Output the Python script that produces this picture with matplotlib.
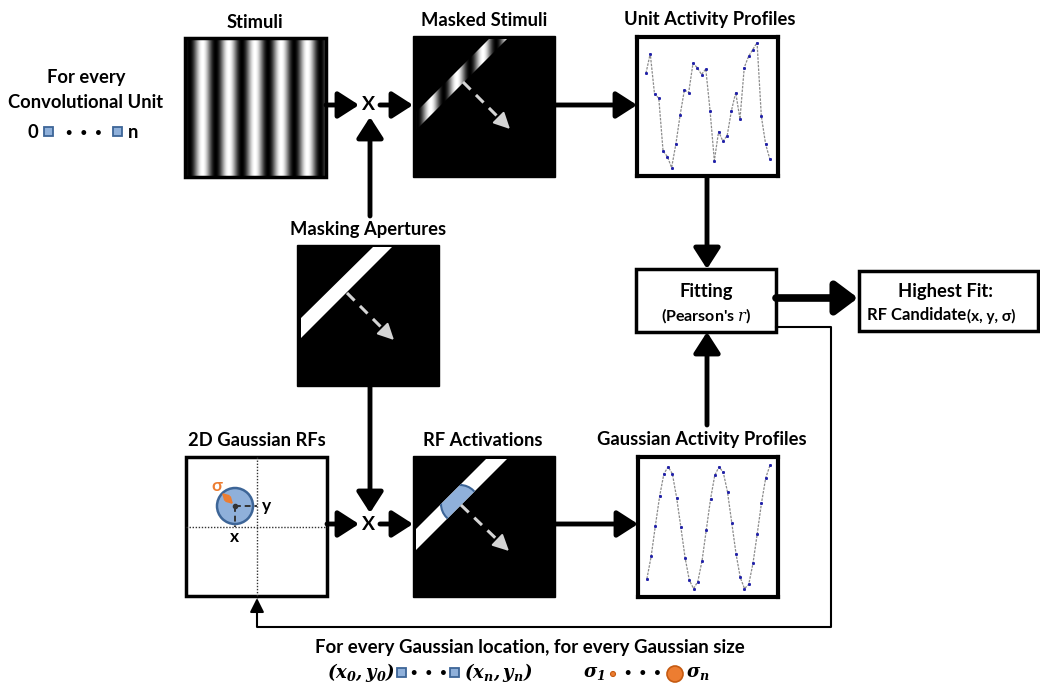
import numpy as np
import matplotlib.pyplot as plt
from matplotlib.patches import Rectangle, Polygon, Circle

plt.rcParams['font.family'] = ['Lato', 'DejaVu Sans']
plt.rcParams['mathtext.fontset'] = 'dejavuserif'

# activity (normalised 0..1 in the panel)
unit_activity = [0.74, 0.88, 0.59, 0.56, 0.18, 0.14, 0.06, 0.23, 0.44, 0.62,
                 0.60, 0.81, 0.78, 0.73, 0.77, 0.47, 0.11, 0.32, 0.25, 0.29,
                 0.47, 0.60, 0.41, 0.78, 0.86, 0.91, 0.96, 0.43, 0.23, 0.12]
gaussian_activity = [0.13, 0.29, 0.51, 0.72, 0.88, 0.93, 0.88, 0.71, 0.50, 0.28,
                     0.12, 0.06, 0.11, 0.26, 0.48, 0.70, 0.87, 0.93, 0.89, 0.75,
                     0.53, 0.31, 0.14, 0.06, 0.09, 0.24, 0.45, 0.67, 0.85, 0.94]

titles = ['Stimuli', 'Masked Stimuli', 'Unit Activity Profiles', 'Masking Apertures',
          '2D Gaussian RFs', 'RF Activations', 'Gaussian Activity Profiles']

BLUE_FILL = '#8fb0da'
BLUE_EDGE = '#3d6597'
ORANGE = '#ed7d31'
W, H = 1040, 684
FS = 13.2

fig = plt.figure(figsize=(W / 100, H / 100), dpi=100)
ax = fig.add_axes([0, 0, 1, 1])
ax.set_xlim(0, W)
ax.set_ylim(H, 0)
ax.axis('off')


def arrow(x0, y0, x1, y1, lw=3.5, hw=0.45, hl=0.7, ms=18, color='black'):
    ax.annotate('', xy=(x1, y1), xytext=(x0, y0),
                arrowprops=dict(arrowstyle=f'-|>,head_length={hl},head_width={hw}',
                                lw=lw, color=color, shrinkA=0, shrinkB=0,
                                mutation_scale=ms))


def dashed_arrow(x0, y0, x1, y1):
    # dashed shaft + solid head
    t = 0.82
    xm, ym = x0 + (x1 - x0) * t, y0 + (y1 - y0) * t
    ax.plot([x0, xm], [y0, ym], color='#d4d4d4', lw=2.2, ls=(0, (3.5, 2.5)), zorder=5)
    arrow(xm, ym, x1, y1, lw=1.5, hw=0.35, hl=0.7, ms=14, color='#d4d4d4')


def grating(x0, y0, x1, y1, clip=None):
    period, dark_off = 26.2, 4
    xs = np.arange(x0, x1) - x0
    row = 0.5 - 0.5 * np.cos(2 * np.pi * (xs - dark_off) / period)
    img = np.tile(row, (int(y1 - y0), 1))
    im = ax.imshow(img, cmap='gray', vmin=0, vmax=1, extent=(x0, x1, y1, y0),
                   interpolation='bilinear', zorder=3)
    if clip is not None:
        im.set_clip_path(clip)
    ax.set_xlim(0, W)
    ax.set_ylim(H, 0)


def title(x, y, s, size=FS):
    ax.text(x, y, s, ha='center', va='center', fontsize=size, fontweight='bold')


# ---- Stimuli
grating(185, 38, 326, 177)
ax.add_patch(Rectangle((185, 38), 141, 139, fill=False, lw=2.5, ec='black', zorder=4))
title(255, 22, titles[0])

# ---- Masked stimuli
ax.add_patch(Rectangle((413, 36), 142, 141, fc='black', ec='black', zorder=2))
band1 = Polygon([(416, 112), (489, 39), (507, 39), (416, 130)], closed=True,
                fc='none', ec='none', zorder=3)
ax.add_patch(band1)
grating(413, 36, 555, 177, clip=band1)
dashed_arrow(463, 82, 510, 129)
title(484, 20, titles[1])

# ---- Masking apertures
ax.add_patch(Rectangle((297, 245), 142, 141, fc='black', ec='black', zorder=2))
ax.add_patch(Polygon([(301, 318), (373, 247), (392, 247), (301, 338)], closed=True,
                     fc='white', ec='none', zorder=3))
dashed_arrow(347, 293, 394, 340)
title(368, 229, titles[3])

# ---- RF activations
ax.add_patch(Rectangle((413, 456), 142, 141, fc='black', ec='black', zorder=2))
band2 = Polygon([(416, 529), (486, 459), (507, 459), (416, 550)], closed=True,
                fc='white', ec='none', zorder=3)
ax.add_patch(band2)
blob = Circle((460, 504), 19, fc=BLUE_FILL, ec=BLUE_EDGE, lw=1.5, zorder=4)
ax.add_patch(blob)
blob.set_clip_path(band2)
dashed_arrow(461, 505, 509, 551)
title(483, 440, titles[5])

# ---- 2D Gaussian RFs
ax.add_patch(Rectangle((186, 457), 141, 139, fc='white', ec='black', lw=2.5, zorder=2))
ax.plot([257, 257], [457, 598], color='#333333', lw=1, ls=(0, (1, 1.2)), zorder=3)
ax.plot([186, 327], [527, 527], color='#333333', lw=1, ls=(0, (1, 1.2)), zorder=3)
ax.add_patch(Circle((235, 506), 18, fc=BLUE_FILL, ec=BLUE_EDGE, lw=1.8, zorder=4))
ax.plot([235, 257], [506, 506], color='#333333', lw=1.4, ls=(0, (3, 2)), zorder=5)
ax.plot([235, 235], [506, 527], color='#333333', lw=1.4, ls=(0, (3, 2)), zorder=5)
ax.plot(235, 506, 'o', ms=3, color='#333333', zorder=6)
ax.annotate('', xy=(233, 504), xytext=(222, 493),
            arrowprops=dict(arrowstyle='<|-|>,head_length=0.35,head_width=0.2',
                            lw=1.5, color=ORANGE, shrinkA=0, shrinkB=0,
                            mutation_scale=10), zorder=6)
ax.text(217, 486, 'σ', color=ORANGE, ha='center', va='center', fontsize=12.5,
        fontweight='bold', zorder=6)
ax.text(267, 506, 'y', ha='center', va='center', fontsize=12.5, fontweight='bold')
ax.text(235, 537, 'x', ha='center', va='center', fontsize=12.5, fontweight='bold')
title(257, 440, titles[4])


# ---- activity profile panels
def profile(x0, y0, x1, y1, values):
    pax = fig.add_axes([x0 / W, 1 - y1 / H, (x1 - x0) / W, (y1 - y0) / H])
    n = len(values)
    pax.plot(np.arange(n), values, color='#8c8c8c', lw=0.9, ls=(0, (2, 1)),
             marker='s', ms=1.1, mfc='#2020a8', mec='#2020a8')
    pax.set_xlim(-2.1, n - 1 + 1.9)
    pax.set_ylim(0, 1)
    pax.set_xticks([])
    pax.set_yticks([])
    for sp in pax.spines.values():
        sp.set_linewidth(3)


profile(637, 37, 778, 176, unit_activity)
title(710, 20, titles[2])
profile(638, 457, 778, 597, gaussian_activity)
title(702, 440, titles[6])

# ---- fitting / result boxes
ax.add_patch(Rectangle((636, 269), 140, 63, fc='white', ec='black', lw=2.5, zorder=2))
ax.text(706, 292, 'Fitting', ha='center', va='center', fontsize=FS, fontweight='bold')
ax.text(706, 316, "(Pearson's $r$)", ha='center', va='center', fontsize=11.5,
        fontweight='bold')
ax.add_patch(Rectangle((859, 271), 179, 60, fc='white', ec='black', lw=2.5, zorder=2))
ax.text(946, 292, 'Highest Fit:', ha='center', va='center', fontsize=FS,
        fontweight='bold')
ax.text(966, 315, 'RF Candidate', ha='right', va='center', fontsize=12,
        fontweight='bold')
ax.text(967, 316, '(x, y, σ)', ha='left', va='center', fontsize=11, fontweight='bold')

# ---- left label
ax.text(86, 78, 'For every', ha='center', va='center', fontsize=FS, fontweight='bold')
ax.text(86, 102, 'Convolutional Unit', ha='center', va='center', fontsize=FS,
        fontweight='bold')
ax.text(33, 132, '0', ha='center', va='center', fontsize=FS, fontweight='bold')
ax.text(133, 132, 'n', ha='center', va='center', fontsize=FS, fontweight='bold')
for sx in (44, 113):
    ax.add_patch(Rectangle((sx, 127), 9, 9, fc=BLUE_FILL, ec=BLUE_EDGE, lw=1.3))
ax.text(84, 132, '•   •   •', ha='center', va='center', fontsize=8, fontweight='bold')

# ---- X operators
ax.text(369, 105, 'X', ha='center', va='center', fontsize=14, fontweight='bold')
ax.text(369, 524, 'X', ha='center', va='center', fontsize=14, fontweight='bold')

# ---- flow arrows
arrow(326, 105, 359, 105)
arrow(380, 105, 413, 105)
arrow(370, 216, 370, 117)
arrow(555, 105, 637, 105)
arrow(707, 176, 707, 269)
arrow(707, 425, 707, 332)
arrow(776, 298, 858, 298, lw=5.5, hw=0.45, hl=0.6, ms=22)
arrow(370, 386, 370, 513)
arrow(327, 524, 359, 524)
arrow(380, 524, 413, 524)
arrow(555, 524, 638, 524)

# ---- feedback loop
ax.plot([776, 831, 831, 257, 257], [327, 327, 627, 627, 606], color='black', lw=1.5)
arrow(257, 608, 257, 598, lw=1.5, hw=0.3, hl=0.6, ms=14)

# ---- bottom legend
ax.text(530, 648, 'For every Gaussian location, for every Gaussian size',
        ha='center', va='center', fontsize=13.4, fontweight='bold')
ax.text(361, 673, r'$\mathbfit{(x_0, y_0)}$', ha='center', va='center', fontsize=13)
ax.text(498, 673, r'$\mathbfit{(x_n, y_n)}$', ha='center', va='center', fontsize=13)
for sx in (397, 450):
    ax.add_patch(Rectangle((sx, 668), 9, 9, fc=BLUE_FILL, ec=BLUE_EDGE, lw=1.3))
ax.text(429, 673, '•   •   •', ha='center', va='center', fontsize=8, fontweight='bold')
ax.text(594, 673, r'$\mathbfit{\sigma_1}$', ha='center', va='center', fontsize=13)
ax.add_patch(Circle((613, 674), 2.5, fc=ORANGE, ec='#c55a11', lw=0.8))
ax.text(643, 673, '•   •   •', ha='center', va='center', fontsize=8, fontweight='bold')
ax.add_patch(Circle((675, 674), 8, fc=ORANGE, ec='#c55a11', lw=1.2))
ax.text(698, 673, r'$\mathbfit{\sigma_n}$', ha='center', va='center', fontsize=13)

fig.savefig('out.png', dpi=100)
